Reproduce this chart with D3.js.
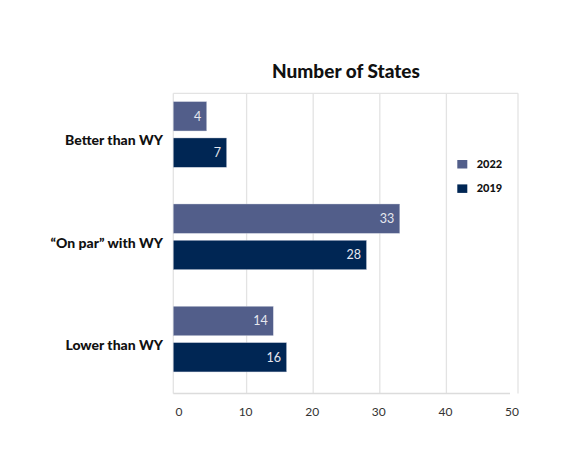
<!DOCTYPE html>
<html><head><meta charset="utf-8">
<script src="https://cdn.jsdelivr.net/npm/d3@7"></script>
<style>body{margin:0;background:#fff}svg{display:block}</style>
</head><body>
<svg id="c" width="570" height="471"></svg>
<script>
const categories = ["Better than WY", "\u201COn par\u201D with WY", "Lower than WY"];
const series = ["2022", "2019"];
const values2022 = [4, 33, 14];
const values2019 = [7, 28, 16];
const tickValues = [0, 10, 20, 30, 40, 50];
const colors = {"2022": "#525E8A", "2019": "#002654"};

const svg = d3.select("#c");
const font = "Lato, 'Open Sans', sans-serif";
const frame = {left: 173.3, right: 518, top: 93.3, bottom: 393.5};

const x = d3.scaleLinear().domain([0, 50]).range([180, 513]);
const y0 = d3.scaleBand().domain(categories).range([83.3, 390.3]);
const y1 = d3.scaleBand().domain(series).range([0, 65.6]).paddingInner(0.193);
const groupOffset = (y0.bandwidth() - 65.6) / 2;

// frame and grid
const g = svg.append("g");
g.append("line").attr("x1", frame.left).attr("x2", frame.right).attr("y1", frame.top).attr("y2", frame.top)
  .attr("stroke", "#e3e3e3").attr("stroke-width", 1.3);
g.append("line").attr("x1", frame.left).attr("x2", frame.left).attr("y1", frame.top).attr("y2", frame.bottom)
  .attr("stroke", "#e3e3e3").attr("stroke-width", 1.3);
g.append("line").attr("x1", frame.right).attr("x2", frame.right).attr("y1", frame.top).attr("y2", frame.bottom)
  .attr("stroke", "#e3e3e3").attr("stroke-width", 1.3);
g.selectAll("line.grid").data(tickValues.filter(t => t > 0 && t < 50)).enter().append("line")
  .attr("class", "grid")
  .attr("x1", d => x(d)).attr("x2", d => x(d)).attr("y1", frame.top).attr("y2", frame.bottom)
  .attr("stroke", "#e3e3e3").attr("stroke-width", 1.3);
g.append("line").attr("x1", frame.left).attr("x2", 510).attr("y1", frame.bottom).attr("y2", frame.bottom)
  .attr("stroke", "#dcdcdc").attr("stroke-width", 1.5);

// axis
const xAxis = d3.axisBottom(x).tickValues(tickValues).tickSize(0).tickPadding(0);
const ax = svg.append("g").attr("transform", `translate(0,${frame.bottom + 22.5})`).call(xAxis);
ax.select(".domain").remove();
ax.selectAll("text").attr("font-family", font).attr("font-size", 12).attr("fill", "#333")
  .attr("dy", 0).attr("dx", -1.5);

// bars
const rows = categories.map((c, i) => ({cat: c, vals: [
  {s: "2022", v: values2022[i]}, {s: "2019", v: values2019[i]}]}));
const grp = svg.selectAll("g.cat").data(rows).enter().append("g")
  .attr("transform", d => `translate(0,${y0(d.cat) + groupOffset})`);
grp.selectAll("rect").data(d => d.vals).enter().append("rect")
  .attr("x", frame.left).attr("y", d => y1(d.s))
  .attr("width", d => x(d.v) - frame.left).attr("height", y1.bandwidth())
  .attr("fill", d => colors[d.s]).attr("stroke", "#c9cedd").attr("stroke-width", 0.4);
grp.selectAll("text.val").data(d => d.vals).enter().append("text")
  .attr("class", "val")
  .attr("x", d => x(d.v) - 5.5).attr("y", d => y1(d.s) + y1.bandwidth() / 2 + 4.5)
  .attr("text-anchor", "end").attr("font-family", font).attr("font-size", 12.5)
  .attr("fill", "#e6e8ef").text(d => d.v);

// category labels
svg.selectAll("text.cat").data(categories).enter().append("text")
  .attr("class", "cat")
  .attr("x", 163).attr("y", d => y0(d) + y0.bandwidth() / 2 + 11)
  .attr("text-anchor", "end").attr("font-family", font).attr("font-weight", "900")
  .attr("font-size", 14).attr("fill", "#111").text(d => d);

// title
svg.append("text").attr("x", 346).attr("y", 77.7).attr("text-anchor", "middle")
  .attr("font-family", font).attr("font-weight", "900").attr("font-size", 19).attr("fill", "#111")
  .text("Number of States");

// legend
const leg = svg.selectAll("g.leg").data(series).enter().append("g")
  .attr("transform", (d, i) => `translate(457.3,${160 + i * 24.4})`);
leg.append("rect").attr("width", 10).attr("height", 8.5).attr("fill", d => colors[d]);
leg.append("text").attr("x", 19.4).attr("y", 8).attr("font-family", font).attr("font-weight", "900")
  .attr("font-size", 11).attr("fill", "#111").text(d => d);
</script>
</body></html>
